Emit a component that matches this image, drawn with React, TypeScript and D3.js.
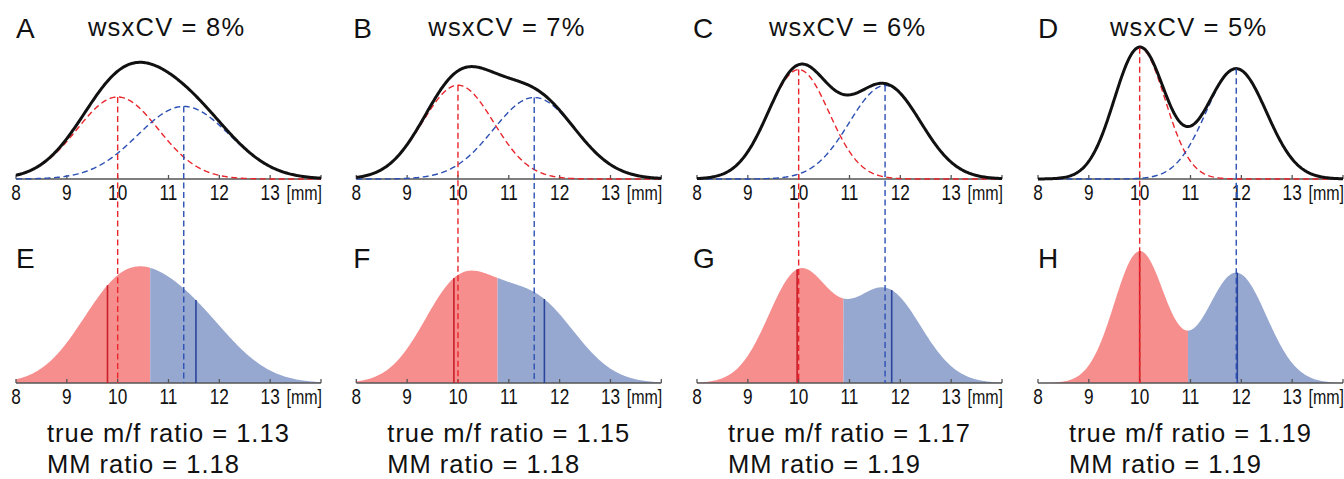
import React from 'react';
import * as d3 from 'd3';

// ---- data ----
const topLetters = ['A', 'B', 'C', 'D'];
const bottomLetters = ['E', 'F', 'G', 'H'];
const wsxCV = [8, 7, 6, 5]; // percent
const femaleMean = [10, 10, 10, 10];
const maleMean = [11.3, 11.5, 11.7, 11.9];
const trueRatioLabel = ['1.13', '1.15', '1.17', '1.19'];
const mmRatioLabel = ['1.18', '1.18', '1.19', '1.19'];
const mmFemaleMean = [9.8, 9.92, 9.97, 10.0];
const mmMaleMean = [11.54, 11.7, 11.83, 11.92];
const splitPoint = [10.64, 10.78, 10.88, 10.95];
const xTicks = [8, 9, 10, 11, 12, 13, 14];
const xTickLabels = ['8', '9', '10', '11', '12', '13', ''];
const unitLabel = '[mm]';

// ---- layout ----
const W = 1344;
const H = 479;
const panelX0 = [16, 356.3, 697, 1038];
const panelW = 305;
const topBase = 179;
const botBase = 383;
const yPx = 329;
const letterDx = [0, -3, -4, 0];

const RED_FILL = '#f78e8e';
const BLUE_FILL = '#97a8d0';
const RED_DASH = '#e8262c';
const BLUE_DASH = '#2c50b4';
const RED_SOLID = '#c81e2a';
const BLUE_SOLID = '#2a449c';

const FONT = "'Liberation Sans', Arial, Helvetica, sans-serif";
const NARROW_SCALE = 0.8;

function pdf(x: number, m: number, s: number) {
  const z = (x - m) / s;
  return Math.exp(-0.5 * z * z) / (s * Math.sqrt(2 * Math.PI));
}

function NarrowText({ x, y, anchor, size, children }: { x: number; y: number; anchor: string; size: number; children: React.ReactNode }) {
  return (
    <text
      transform={`translate(${x},${y}) scale(${NARROW_SCALE},1)`}
      textAnchor={anchor}
      fontFamily={FONT}
      fontSize={size}
      fill="#111"
    >
      {children}
    </text>
  );
}

function Panel({ i }: { i: number }) {
  const x0 = panelX0[i];
  const x = d3.scaleLinear().domain([8, 14]).range([x0, x0 + panelW]);
  const yTop = d3.scaleLinear().domain([0, 1]).range([topBase, topBase - yPx]);
  const yBot = d3.scaleLinear().domain([0, 1]).range([botBase, botBase - yPx]);
  const mf = femaleMean[i];
  const mm = maleMean[i];
  const sf = (mf * wsxCV[i]) / 100;
  const sm = (mm * wsxCV[i]) / 100;
  const fComp = (v: number) => 0.5 * pdf(v, mf, sf);
  const mComp = (v: number) => 0.5 * pdf(v, mm, sm);
  const mix = (v: number) => fComp(v) + mComp(v);
  const xs = d3.range(8, 14.0001, 0.02);

  const lineTop = (fn: (v: number) => number) =>
    d3.line<number>().x((d) => x(d)).y((d) => yTop(fn(d)))(xs) || '';

  const split = splitPoint[i];
  const leftXs = xs.filter((d) => d < split).concat([split]);
  const rightXs = [split].concat(xs.filter((d) => d > split));
  const area = d3
    .area<number>()
    .x((d) => x(d))
    .y0(botBase)
    .y1((d) => yBot(mix(d)));

  const axis = (base: number) => (
    <g>
      <line x1={x(8)} x2={x(14)} y1={base} y2={base} stroke="#555" strokeWidth={1.5} />
      {xTicks.map((t, k) => (
        <g key={k}>
          <line x1={x(t)} x2={x(t)} y1={base} y2={base - 4} stroke="#555" strokeWidth={1.3} />
          {xTickLabels[k] && (
            <NarrowText x={x(t)} y={base + 21} anchor="middle" size={21.5}>
              {xTickLabels[k]}
            </NarrowText>
          )}
        </g>
      ))}
      <NarrowText x={x(14) + 1} y={base + 21} anchor="end" size={20}>
        {unitLabel}
      </NarrowText>
    </g>
  );

  const dash = '6 3.5';

  return (
    <g>
      {/* bottom fills */}
      <path d={area(leftXs) || ''} fill={RED_FILL} />
      <path d={area(rightXs) || ''} fill={BLUE_FILL} />
      {axis(topBase)}
      {axis(botBase)}
      {/* component curves */}
      <path d={lineTop(fComp)} fill="none" stroke={RED_DASH} strokeWidth={1.4} strokeDasharray={dash} />
      <path d={lineTop(mComp)} fill="none" stroke={BLUE_DASH} strokeWidth={1.4} strokeDasharray={dash} />
      {/* mixture */}
      <path d={lineTop(mix)} fill="none" stroke="#111" strokeWidth={3} />
      {/* MM estimated means */}
      <line x1={x(mmFemaleMean[i])} x2={x(mmFemaleMean[i])} y1={botBase} y2={yBot(mix(mmFemaleMean[i]))} stroke={RED_SOLID} strokeWidth={1.6} />
      <line x1={x(mmMaleMean[i])} x2={x(mmMaleMean[i])} y1={botBase} y2={yBot(mix(mmMaleMean[i]))} stroke={BLUE_SOLID} strokeWidth={1.6} />
      {/* true means */}
      <line x1={x(mf)} x2={x(mf)} y1={yTop(fComp(mf))} y2={botBase} stroke={RED_DASH} strokeWidth={1.4} strokeDasharray={dash} />
      <line x1={x(mm)} x2={x(mm)} y1={yTop(mComp(mm))} y2={botBase} stroke={BLUE_DASH} strokeWidth={1.4} strokeDasharray={dash} />
      {/* labels */}
      <text x={x0 + letterDx[i]} y={38} fontFamily={FONT} fontSize={28} fill="#111">
        {topLetters[i]}
      </text>
      <text x={x0 + letterDx[i]} y={268} fontFamily={FONT} fontSize={28} fill="#111">
        {bottomLetters[i]}
      </text>
      <text x={x0 + 72} y={36} fontFamily={FONT} fontSize={25.5} letterSpacing={1.2} fill="#111">
        {`wsxCV = ${wsxCV[i]}%`}
      </text>
      <text x={x0 + 31} y={442} fontFamily={FONT} fontSize={25.5} letterSpacing={1} fill="#111">
        {`true m/f ratio = ${trueRatioLabel[i]}`}
      </text>
      <text x={x0 + 31} y={473} fontFamily={FONT} fontSize={25.5} letterSpacing={1} fill="#111">
        {`MM ratio = ${mmRatioLabel[i]}`}
      </text>
    </g>
  );
}

export default function App() {
  return (
    <svg
      width={W}
      height={H}
      viewBox={`0 0 ${W} ${H}`}
      style={{ position: 'absolute', left: 0, top: 0, background: '#fff' }}
    >
      <rect width={W} height={H} fill="#fff" />
      {[0, 1, 2, 3].map((i) => (
        <Panel key={i} i={i} />
      ))}
    </svg>
  );
}
